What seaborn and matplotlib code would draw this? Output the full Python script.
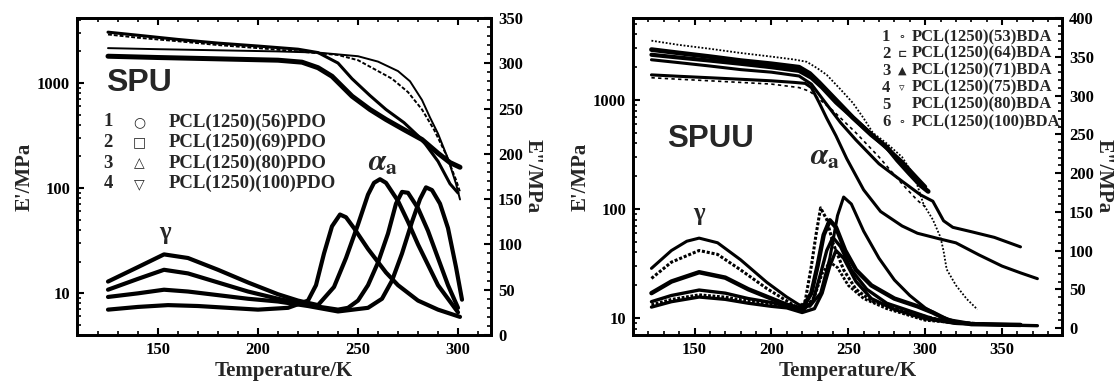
import numpy as np
import pandas as pd
import matplotlib
matplotlib.use("Agg")
import matplotlib.pyplot as plt
import seaborn as sns
from matplotlib.ticker import MultipleLocator, FixedLocator, LogLocator, NullFormatter

sns.set_theme(style="ticks")
plt.rcParams['font.family'] = ['Liberation Serif', 'DejaVu Sans']
plt.rcParams['font.weight'] = 'bold'
plt.rcParams['mathtext.fontset'] = 'stix'

# ---------------- SPU (left panel) ----------------
spu_labels = ["PCL(1250)(56)PDO", "PCL(1250)(69)PDO", "PCL(1250)(80)PDO", "PCL(1250)(100)PDO"]
spu_numbers = ["1", "2", "3", "4"]
spu_symbols = ["○", "□", "△", "▽"]

# storage modulus E' (MPa)
spu_T1 = [125,140,160,180,200,220,230,240,247,256,264,273,282,290,296,300]
spu_E1 = [3050,2850,2600,2400,2250,2100,1950,1550,1100,760,560,420,290,180,110,90]
spu_T2 = [125,140,160,180,200,220,240,250,260,267,275,282,288,294,299,301]
spu_E2 = [2900,2700,2500,2300,2150,2000,1850,1650,1300,1100,820,560,360,210,120,92]
spu_T3 = [125,150,180,210,230,250,260,270,276,282,286,290,295,299,301]
spu_E3 = [2150,2100,2050,2000,1950,1800,1600,1300,1040,690,470,330,190,110,78]
spu_T4 = [125,150,180,210,222,230,237,247,256,264,273,282,290,296,301]
spu_E4 = [1800,1750,1700,1650,1580,1400,1160,750,560,450,360,290,215,175,158]

# loss modulus E'' (MPa)
spu_T1e = [125,140,153,165,180,195,210,220,230,238,244,250,255,258,261,264,270,275,280,290,300]
spu_L1 = [59,75,89,85,72,58,45,38,33,53,85,122,155,168,172,168,148,125,100,55,25]
spu_T2e = [125,140,153,165,180,195,210,225,240,245,250,255,260,265,269,272,275,280,285,290,295,300]
spu_L2 = [50,62,72,68,58,48,40,33,28,30,38,55,80,112,145,158,157,140,115,85,55,30]
spu_T3e = [125,140,153,165,180,195,210,225,240,255,262,267,272,277,281,284,287,291,295,299,302]
spu_L3 = [42,46,50,48,44,40,37,32,26,30,40,60,90,125,150,163,160,145,118,75,39]
spu_T4e = [125,140,155,170,185,200,215,225,229,233,237,241,244,248,255,264,270,280,290,301]
spu_L4 = [28,31,33,32,30,28,30,38,55,90,120,133,130,118,95,69,55,38,28,20]

# ---------------- SPUU (right panel) ----------------
spuu_labels = ["PCL(1250)(53)BDA", "PCL(1250)(64)BDA", "PCL(1250)(71)BDA",
               "PCL(1250)(75)BDA", "PCL(1250)(80)BDA", "PCL(1250)(100)BDA"]
spuu_numbers = ["1", "2", "3", "4", "5", "6"]
spuu_symbols = ["∘", "⊏", "▲", "▿", "", "∘"]

spuu_T1 = [122,140,160,180,200,215,223,230,236,245,253,260,266,275,285,293,299,305,310,312,314,320,327,334]
spuu_E1 = [3500,3200,2950,2700,2500,2350,2240,1950,1700,1250,940,680,500,400,300,200,110,80,55,41,28,20,15,12]
spuu_T2 = [122,140,160,180,200,218,225,231,240,253,265,275,282,290,297,302]
spuu_E2 = [2900,2700,2500,2300,2150,2000,1750,1450,1070,690,480,370,280,210,165,145]
spuu_T3 = [122,140,160,180,200,218,226,235,245,255,270,285,297,305,312,318,330,345,362]
spuu_E3 = [2340,2200,2050,1900,1800,1660,1400,950,620,430,260,180,135,118,78,68,62,55,45]
spuu_T4 = [122,140,160,180,200,215,222,226,231,236,242,249,260,271,285,295,310,320,335,350,362,373]
spuu_E4 = [1700,1650,1600,1550,1500,1450,1420,1300,950,680,470,290,150,95,70,60,53,49,38,30,26,23]
spuu_T5 = [122,140,160,180,200,218,225,240,255,270,285,295,300]
spuu_E5 = [1600,1550,1500,1450,1400,1300,1200,800,500,300,170,120,105]
spuu_T6 = [122,140,160,180,200,218,226,233,242,255,270,285,295,300]
spuu_E6 = [2600,2450,2300,2150,2000,1850,1600,1300,950,650,420,270,190,160]

spuu_T1e = [122,135,145,153,165,180,197,210,218,225,232,238,243,247,252,260,270,280,290,300,310,320,335]
spuu_L1 = [77,100,112,116,110,88,59,40,30,28,45,90,145,169,160,125,90,62,42,26,15,8,5]
spuu_T2e = [122,135,153,165,180,197,210,218,222,226,229,232,236,240,247,255,265,280,300,315,340]
spuu_L2 = [64,85,100,95,75,51,35,25,35,80,120,155,140,110,75,50,35,25,15,8,5]
spuu_T3e = [122,135,153,170,185,200,210,220,226,230,234,238,242,248,255,265,280,295,305,315,330,362]
spuu_L3 = [45,60,72,65,50,38,30,25,45,80,120,139,130,100,75,55,38,28,20,10,5,4]
spuu_T4e = [122,135,153,170,185,200,210,220,227,232,236,240,245,252,262,275,290,305,320,350,373]
spuu_L4 = [34,42,49,45,38,33,28,22,35,70,100,117,105,75,50,32,22,12,6,4,3]
spuu_T5e = [122,135,153,170,185,200,210,220,228,233,238,242,247,255,265,280,300,320,362]
spuu_L5 = [27,34,40,37,32,28,26,20,25,45,80,100,90,60,38,24,12,6,4]
spuu_T6e = [122,135,153,170,185,200,210,220,228,233,238,243,250,260,275,300,330,362]
spuu_L6 = [30,37,43,40,35,30,27,22,40,70,85,78,55,38,25,10,5,4]

W, H = 1119, 387
fig = plt.figure(figsize=(W/100, H/100), dpi=100)
fig.patch.set_facecolor('white')

def frame(ax, ax2, xlim, ylim, y2lim, y2major):
    ax.set_yscale('log')
    ax.set_xlim(*xlim)
    ax.set_ylim(*ylim)
    ax2.set_ylim(*y2lim)
    ax.xaxis.set_major_locator(MultipleLocator(50))
    ax.xaxis.set_minor_locator(MultipleLocator(10))
    ax.yaxis.set_major_locator(FixedLocator([10, 100, 1000]))
    ax.yaxis.set_major_formatter(plt.FuncFormatter(lambda v, p: f"{int(v)}"))
    ax.yaxis.set_minor_locator(LogLocator(base=10, subs=np.arange(2, 10)))
    ax.yaxis.set_minor_formatter(NullFormatter())
    ax2.yaxis.set_major_locator(MultipleLocator(y2major))
    ax2.yaxis.set_minor_locator(MultipleLocator(10))
    for a in (ax, ax2):
        a.tick_params(which='both', direction='in', colors='black', labelsize=12, pad=5)
        a.tick_params(which='major', length=5, width=1.5)
        a.tick_params(which='minor', length=3, width=1.2)
        for s in a.spines.values():
            s.set_linewidth(2.0)
            s.set_color('black')
    ax.tick_params(axis='x', which='both', top=True)
    ax.tick_params(axis='y', which='both', right=False)
    ax.set_xlabel("Temperature/K", fontsize=15, fontweight='bold', labelpad=2)
    ax.set_ylabel("E'/MPa", fontsize=15, fontweight='bold', labelpad=2)
    ax2.set_ylabel('E"/MPa', fontsize=15, fontweight='bold', rotation=270, labelpad=14)
    ax.set_facecolor('white')
    ax.grid(False); ax2.grid(False)

def draw(ax, T, V, lw, ls='-'):
    sns.lineplot(x=T, y=V, ax=ax, color='black', lw=lw, linestyle=ls, sort=False,
                 estimator=None, legend=False)

# ---- left panel ----
ax1 = fig.add_axes([77/W, (H-335)/H, 414/W, 317/H])
ax1b = ax1.twinx()
draw(ax1, spu_T1, spu_E1, 2.2)
draw(ax1, spu_T2, spu_E2, 1.4, (0, (2, 1)))
draw(ax1, spu_T3, spu_E3, 1.4)
draw(ax1, spu_T4, spu_E4, 3.6)
for T, L in [(spu_T1e, spu_L1), (spu_T2e, spu_L2), (spu_T3e, spu_L3), (spu_T4e, spu_L4)]:
    draw(ax1b, T, L, 3.0)
frame(ax1, ax1b, (109.5, 316.5), (4.0, 4160), (0, 350), 50)
ax1.text(124, 1000, "SPU", fontsize=23, fontweight='bold', family=['Liberation Sans'],
         ha='left', va='center')
ax1b.text(153.5, 113, "γ", fontsize=18, ha='center', va='center')
ax1b.text(262.6, 190, r'$\alpha_{\rm a}$', fontsize=22, ha='center', va='center')
ys = [0.672, 0.607, 0.542, 0.477]
for n, s, lab, y in zip(spu_numbers, spu_symbols, spu_labels, ys):
    ax1.text(0.075, y, n, transform=ax1.transAxes, fontsize=13.5, fontweight='bold', ha='center', va='center')
    ax1.text(0.150, y, s, transform=ax1.transAxes, fontsize=10, fontweight='bold', ha='center', va='center',
             family=['DejaVu Sans'])
    ax1.text(0.222, y, lab, transform=ax1.transAxes, fontsize=13.5, fontweight='bold', ha='left', va='center')

# ---- right panel ----
ax2 = fig.add_axes([633/W, (H-335)/H, 429/W, 317/H])
ax2b = ax2.twinx()
draw(ax2, spuu_T1, spuu_E1, 1.3, (0, (1, 1)))
draw(ax2, spuu_T2, spuu_E2, 3.4)
draw(ax2, spuu_T3, spuu_E3, 2.2)
draw(ax2, spuu_T4, spuu_E4, 2.2)
draw(ax2, spuu_T5, spuu_E5, 1.2, (0, (2, 2)))
draw(ax2, spuu_T6, spuu_E6, 3.0)
draw(ax2b, spuu_T1e, spuu_L1, 2.2)
draw(ax2b, spuu_T2e, spuu_L2, 2.2, (0, (1, 0.6)))
draw(ax2b, spuu_T3e, spuu_L3, 3.2)
draw(ax2b, spuu_T4e, spuu_L4, 2.4)
draw(ax2b, spuu_T5e, spuu_L5, 2.4)
draw(ax2b, spuu_T6e, spuu_L6, 2.0, (0, (1, 0.6)))
frame(ax2, ax2b, (110, 389), (7.0, 5650), (-9, 400), 50)
ax2.text(132, 437, "SPUU", fontsize=22.5, fontweight='bold', family=['Liberation Sans'],
         ha='left', va='center')
ax2b.text(153, 148, "γ", fontsize=18, ha='center', va='center')
ax2b.text(235, 220, r'$\alpha_{\rm a}$', fontsize=22, ha='center', va='center')
ys2 = [0.940, 0.888, 0.834, 0.780, 0.726, 0.672]
for n, s, lab, y in zip(spuu_numbers, spuu_symbols, spuu_labels, ys2):
    ax2.text(0.590, y, n, transform=ax2.transAxes, fontsize=12, fontweight='bold', ha='center', va='center')
    if s:
        ax2.text(0.627, y, s, transform=ax2.transAxes, fontsize=8, fontweight='bold', ha='center', va='center',
                 family=['DejaVu Sans'])
    ax2.text(0.650, y, lab, transform=ax2.transAxes, fontsize=12, fontweight='bold', ha='left', va='center')

fig.savefig("out.png", dpi=100, facecolor='white')
